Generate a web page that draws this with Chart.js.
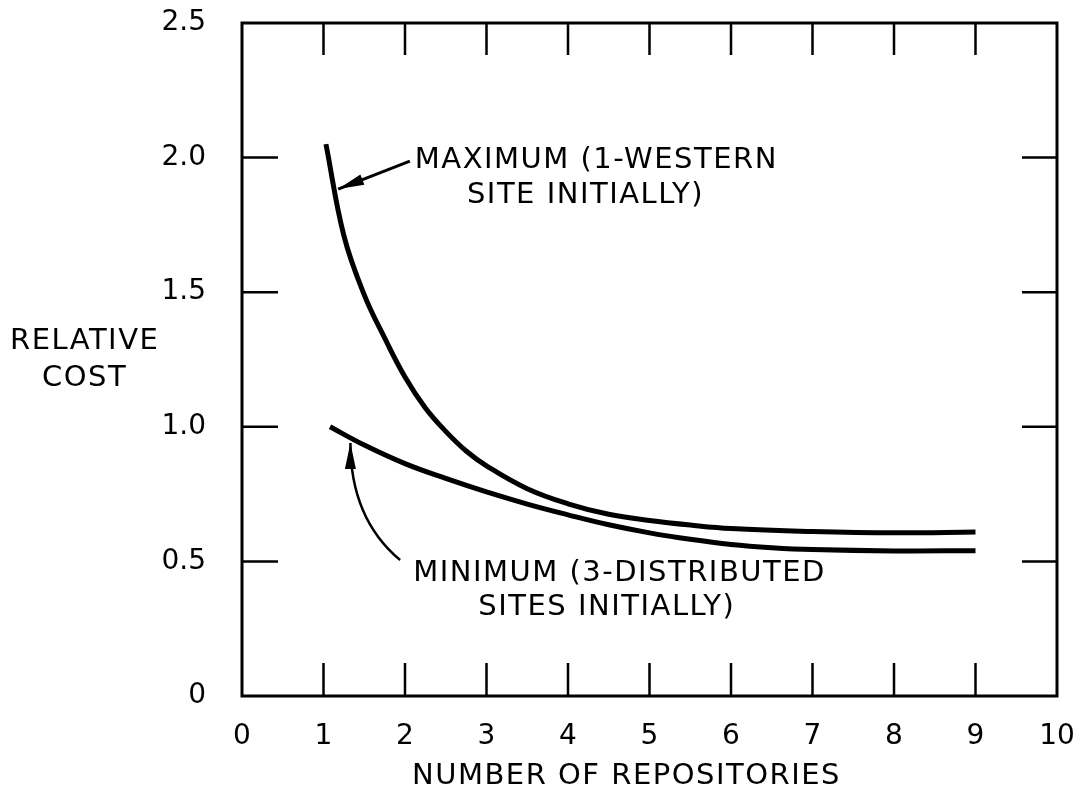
<!DOCTYPE html>
<html>
<head>
<meta charset="utf-8">
<script src="https://cdn.jsdelivr.net/npm/chart.js@4/dist/chart.umd.min.js"></script>
<style>
  html, body { margin: 0; padding: 0; background: #fff; }
  canvas { display: block; }
</style>
</head>
<body>
<canvas id="graph" width="1086" height="797"></canvas>
<script>
// valeurs
const xMaximum = [1.03, 1.25, 1.5, 1.75, 2.0, 2.25, 2.5, 2.75, 3.0, 3.5, 4.0, 4.5, 5.0, 5.5, 6.0, 7.0, 8.0, 9.0];
const yMaximum = [2.05, 1.71, 1.49, 1.33, 1.185, 1.07, 0.983, 0.91, 0.855, 0.77, 0.714, 0.675, 0.652, 0.635, 0.622, 0.611, 0.606, 0.609];
const xMinimum = [1.08, 1.5, 2.0, 2.5, 3.0, 3.5, 4.0, 4.5, 5.0, 5.5, 6.0, 6.5, 7.0, 8.0, 9.0];
const yMinimum = [1.0, 0.932, 0.863, 0.808, 0.758, 0.713, 0.673, 0.636, 0.606, 0.582, 0.563, 0.551, 0.544, 0.539, 0.54];

const xTickLabels = ['0', '1', '2', '3', '4', '5', '6', '7', '8', '9', '10'];
const yTickLabels = ['0', '0.5', '1.0', '1.5', '2.0', '2.5'];
const innerTicksX = [1, 2, 3, 4, 5, 6, 7, 8, 9];
const innerTicksY = [0.5, 1.0, 1.5, 2.0];

const FONT = '"DejaVu Sans", sans-serif';

function points(xs, ys) {
    let liste = [];
    for (let i = 0; i < xs.length; i++)
        liste.push({x: xs[i], y: ys[i]});
    return liste;
}

// cadre, graduations internes, annotations
const decor = {
    id: 'decor',
    afterDraw(chart) {
        let ctx = chart.ctx;
        let a = chart.chartArea;
        let sx = chart.scales.x, sy = chart.scales.y;
        ctx.save();
        ctx.strokeStyle = '#000';
        ctx.lineWidth = 3;
        ctx.strokeRect(a.left, a.top, a.right - a.left, a.bottom - a.top);

        ctx.lineWidth = 2.5;
        ctx.beginPath();
        innerTicksX.forEach(v => {
            let px = sx.getPixelForValue(v);
            ctx.moveTo(px, a.bottom); ctx.lineTo(px, a.bottom - 33);
            ctx.moveTo(px, a.top); ctx.lineTo(px, a.top + 32);
        });
        innerTicksY.forEach(v => {
            let py = sy.getPixelForValue(v);
            ctx.moveTo(a.left, py); ctx.lineTo(a.left + 36, py);
            ctx.moveTo(a.right, py); ctx.lineTo(a.right - 35, py);
        });
        ctx.stroke();

        ctx.fillStyle = '#000';
        ctx.font = '29px ' + FONT;
        ctx.letterSpacing = '1.5px';
        ctx.textBaseline = 'middle';
        ctx.textAlign = 'left';

        // titres des axes
        ctx.fillText('RELATIVE', 10, 341);
        ctx.fillText('COST', 42, 378);
        ctx.fillText('NUMBER OF REPOSITORIES', 412, 776);

        // annotations
        ctx.fillText('MAXIMUM (1-WESTERN', sx.getPixelForValue(2.12), sy.getPixelForValue(1.99));
        ctx.fillText('SITE INITIALLY)', sx.getPixelForValue(2.76), sy.getPixelForValue(1.86));
        ctx.fillText('MINIMUM (3-DISTRIBUTED', sx.getPixelForValue(2.10), sy.getPixelForValue(0.457));
        ctx.fillText('SITES INITIALLY)', sx.getPixelForValue(2.90), sy.getPixelForValue(0.33));

        // fleche MAXIMUM
        let x0 = sx.getPixelForValue(2.06), y0 = sy.getPixelForValue(1.987);
        let x1 = sx.getPixelForValue(1.18), y1 = sy.getPixelForValue(1.883);
        ctx.lineWidth = 3;
        ctx.beginPath();
        ctx.moveTo(x0, y0); ctx.lineTo(x1, y1);
        ctx.stroke();
        fleche(ctx, x1, y1, Math.atan2(y1 - y0, x1 - x0));

        // fleche MINIMUM (courbe)
        let m0x = sx.getPixelForValue(1.94), m0y = sy.getPixelForValue(0.505);
        let cx = sx.getPixelForValue(1.33), cy = sy.getPixelForValue(0.66);
        let m1x = sx.getPixelForValue(1.33), m1y = sy.getPixelForValue(0.94);
        ctx.lineWidth = 2.5;
        ctx.beginPath();
        ctx.moveTo(m0x, m0y);
        ctx.quadraticCurveTo(cx, cy, m1x, m1y);
        ctx.stroke();
        fleche(ctx, m1x, m1y, Math.atan2(m1y - cy, m1x - cx));
        ctx.restore();
    }
};

function fleche(ctx, x, y, angle) {
    let len = 26, half = 5.5;
    ctx.save();
    ctx.translate(x, y);
    ctx.rotate(angle);
    ctx.beginPath();
    ctx.moveTo(0, 0);
    ctx.lineTo(-len, -half);
    ctx.lineTo(-len, half);
    ctx.closePath();
    ctx.fill();
    ctx.restore();
}

let ctx = document.getElementById('graph').getContext('2d');

// graduations invisibles : servent seulement à décaler les libellés
const hiddenGrid = {
    display: true,
    drawOnChartArea: false,
    drawTicks: true,
    color: 'rgba(0,0,0,0)'
};

let myChart = new Chart(ctx, {
    type: 'scatter',
    data: {
        datasets: [{
            label: 'MAXIMUM (1-WESTERN SITE INITIALLY)',
            data: points(xMaximum, yMaximum),
            showLine: true,
            borderColor: '#000',
            borderWidth: 5,
            pointRadius: 0,
            tension: 0.4,
            fill: false
        }, {
            label: 'MINIMUM (3-DISTRIBUTED SITES INITIALLY)',
            data: points(xMinimum, yMinimum),
            showLine: true,
            borderColor: '#000',
            borderWidth: 5,
            pointRadius: 0,
            tension: 0.4,
            fill: false
        }]
    },
    options: {
        responsive: false,
        animation: false,
        devicePixelRatio: 1,
        layout: {padding: {left: 0, right: 29, top: 23, bottom: 0}},
        plugins: {
            legend: {display: false},
            tooltip: {enabled: false}
        },
        scales: {
            x: {
                type: 'linear',
                min: 0,
                max: 10,
                grid: Object.assign({tickLength: 24}, hiddenGrid),
                border: {display: false},
                ticks: {
                    stepSize: 1,
                    padding: 0,
                    color: '#000',
                    font: {family: FONT, size: 28},
                    callback: (v, i) => xTickLabels[i]
                },
                afterFit: s => { s.height = 101; }
            },
            y: {
                type: 'linear',
                min: 0,
                max: 2.5,
                grid: Object.assign({tickLength: 36}, hiddenGrid),
                border: {display: false},
                ticks: {
                    stepSize: 0.5,
                    padding: 0,
                    color: '#000',
                    font: {family: FONT, size: 28},
                    callback: (v, i) => yTickLabels[i]
                },
                afterFit: s => { s.width = 242; }
            }
        }
    },
    plugins: [decor]
});
</script>
</body>
</html>
